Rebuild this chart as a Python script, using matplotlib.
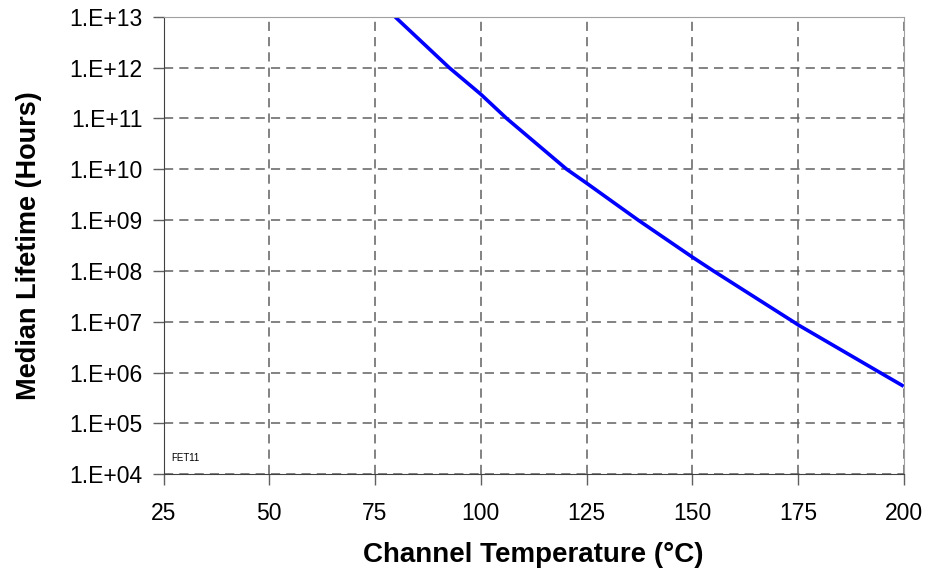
import math
import matplotlib.pyplot as plt
import matplotlib.ticker as mticker

plt.rcParams['font.family'] = ['Liberation Sans', 'DejaVu Sans']

# Data
temperature = [79.7, 92.5, 100, 106.1, 120.3, 125, 137.2, 150, 155, 173.9, 175, 194.4, 200]
lifetime = [1e13, 1e12, 10**11.475, 1e11, 1e10, 10**9.727, 1e9,
            10**8.273, 1e8, 1e7, 10**6.94, 1e6, 10**5.73]
x_ticks = [25, 50, 75, 100, 125, 150, 175, 200]

fig = plt.figure(figsize=(9.25, 5.71), dpi=100)
ax = fig.add_axes([0.1768, 0.1694, 0.8002, 0.8014])

ax.plot(temperature, lifetime, color='#0000ff', lw=2.6, solid_capstyle='butt')

ax.set_yscale('log')
ax.set_xlim(25, 200)
ax.set_ylim(1e4, 1e13)
ax.set_xticks(x_ticks)
ax.yaxis.set_major_locator(mticker.LogLocator(base=10, numticks=20))
ax.yaxis.set_minor_locator(mticker.NullLocator())
ax.yaxis.set_major_formatter(mticker.FuncFormatter(lambda v, p: '1.E+%02d' % round(math.log10(v))))

ax.grid(True, which='major', color='#606060', linestyle=(0, (6, 4)), lw=1.1)
ax.tick_params(labelsize=16.5, length=8, width=1, color='#606060', pad=7)
ax.tick_params(axis='x', pad=12)

for s in ['left', 'bottom']:
    ax.spines[s].set_color('#404040')
for s in ['top', 'right']:
    ax.spines[s].set_color('#a0a0a0')

ax.set_xlabel('Channel Temperature (°C)', fontsize=20, fontweight='bold', labelpad=12)
ax.set_ylabel('Median Lifetime (Hours)', fontsize=19.5, fontweight='bold', labelpad=20)

ax.text(0.01, 0.025, 'FET11', transform=ax.transAxes, fontsize=7, va='bottom', ha='left')

fig.savefig('out.png', dpi=100)
